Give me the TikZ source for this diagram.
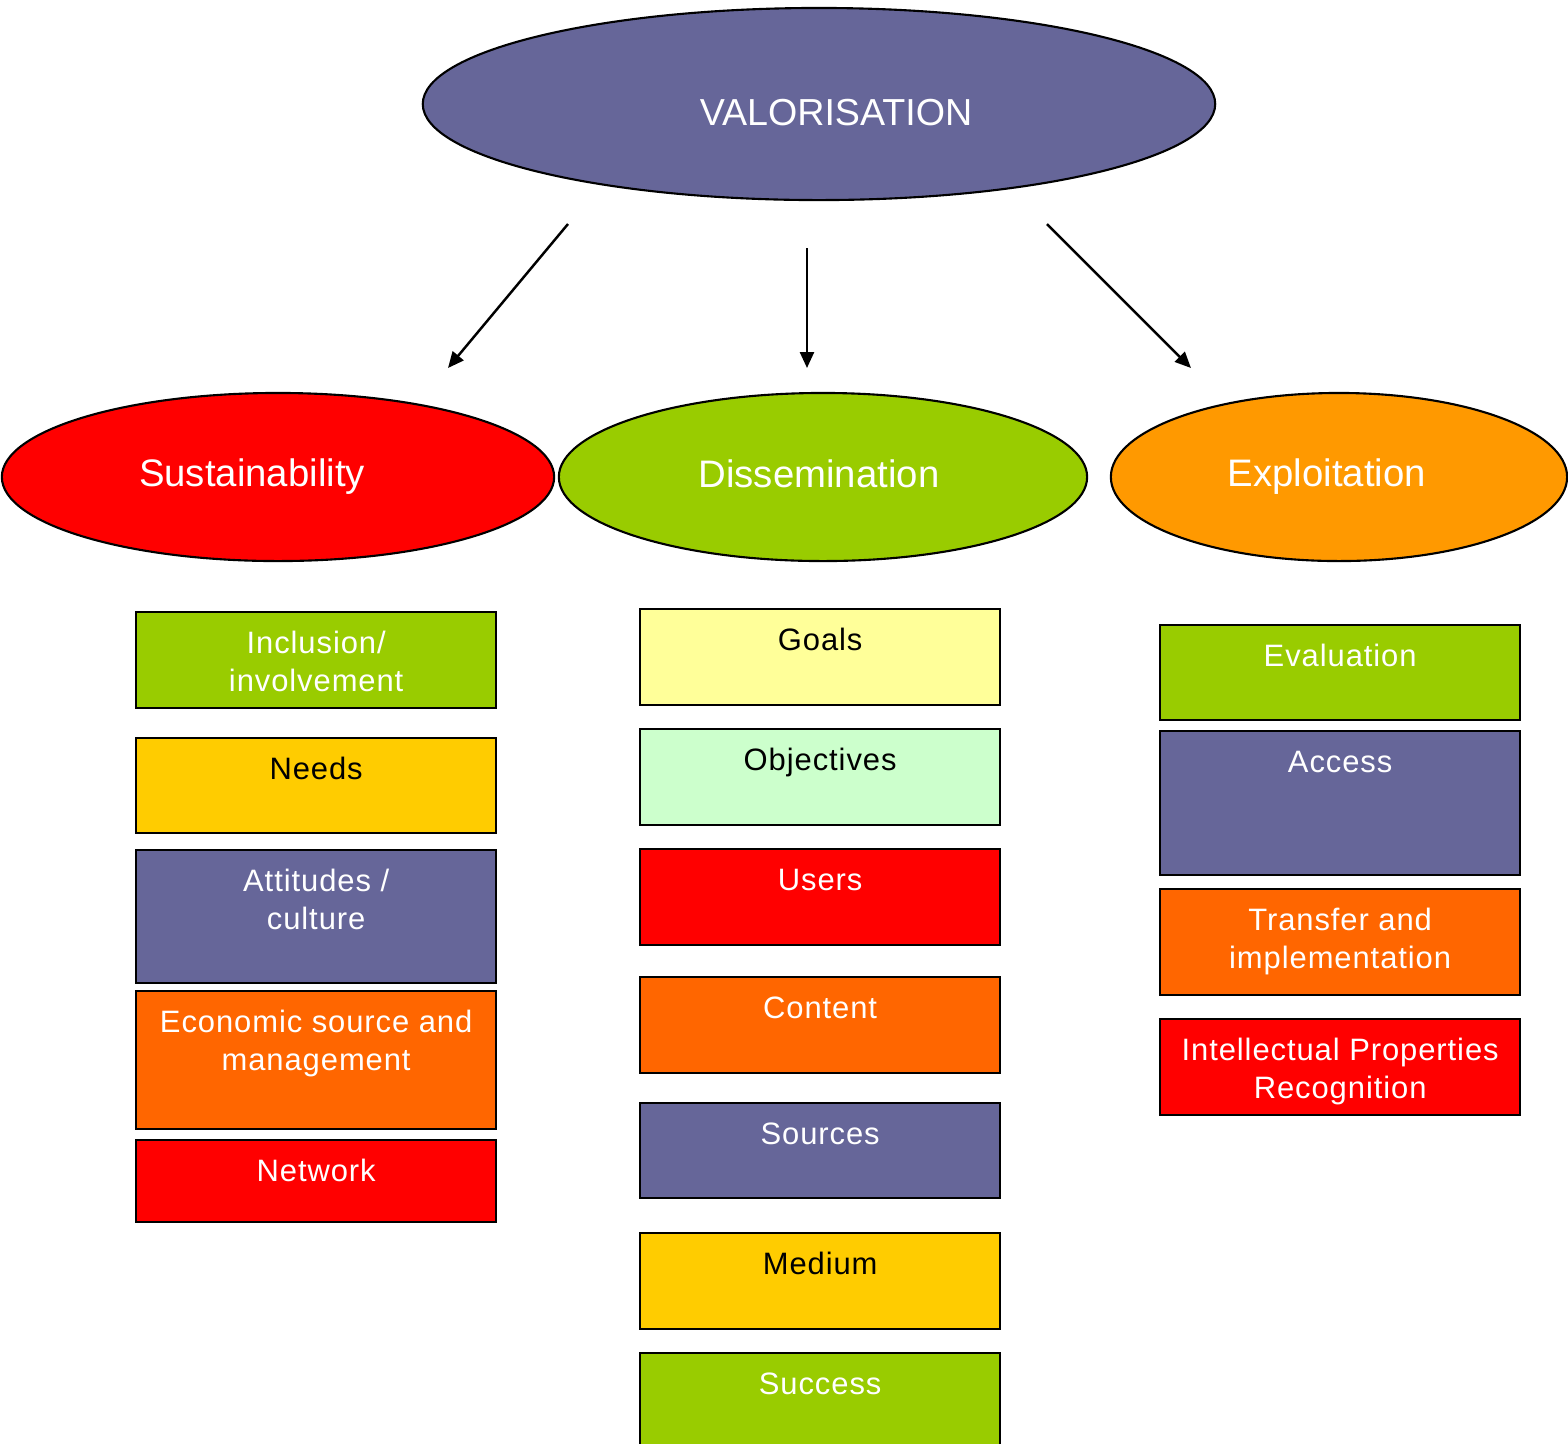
\documentclass[tikz,border=0pt]{standalone}
\usepackage{fontspec}
\setmainfont{Liberation Sans}
\newfontfamily\boxfont[LetterSpace=3]{Liberation Sans}
\usetikzlibrary{shapes.geometric,arrows.meta}

\definecolor{slate}{HTML}{666699}
\definecolor{lime}{HTML}{99CC00}
\definecolor{tangerine}{HTML}{FF9900}
\definecolor{rust}{HTML}{FF6600}
\definecolor{gold}{HTML}{FFCC00}
\definecolor{cream}{HTML}{FFFF99}
\definecolor{mint}{HTML}{CCFFCC}

\tikzset{
  blob/.style={ellipse, draw, line width=0.6pt, inner sep=0pt, text=white},
  cell/.style={draw, rectangle, inner sep=0pt, line width=0.6pt, anchor=north west,
    font={\boxfont\fontsize{8.8}{10.8}\selectfont},
    execute at begin node={\begin{minipage}[t][#1][t]{3.6cm}\centering\rule{0pt}{0.415cm}},
    execute at end node={\end{minipage}}},
}

\begin{document}
\begin{tikzpicture}[x=0.01cm,y=-0.01cm]

      \clip (0,0) rectangle (1568,1444);

      \begin{scope}[every node/.style={blob}]
        \node (v) at (819,104) [fill=slate, minimum width=7.92cm, minimum height=1.92cm,
          text height=0.42cm, text depth=0pt, font=\fontsize{10.7}{13}\selectfont]
          {\hspace*{0.34cm}VALORISATION};
        \node (s) at (278,477) [fill=red, minimum width=5.52cm, minimum height=1.68cm,
          font=\fontsize{10.9}{13}\selectfont] {Sustainability\hspace*{0.52cm}};
        \node (d) at (823,477) [fill=lime, minimum width=5.28cm, minimum height=1.68cm,
          text depth=0.06cm, font=\fontsize{10.9}{13}\selectfont] {Dissemination\hspace*{0.08cm}};
        \node (e) at (1339,477) [fill=tangerine, minimum width=4.56cm, minimum height=1.68cm,
          font=\fontsize{10.9}{13}\selectfont] {Exploitation\hspace*{0.24cm}};
      \end{scope}

      % left column
      \node (s1) at (135,611)  [cell=0.96cm, fill=lime, text=white] {Inclusion/\\involvement};
      \node (s2) at (135,737)  [cell=0.95cm, fill=gold] {Needs};
      \node (s3) at (135,849)  [cell=1.33cm, fill=slate, text=white] {Attitudes /\\culture};
      \node (s4) at (135,990)  [cell=1.38cm, fill=rust, text=white] {Economic source and\\management};
      \node (s5) at (135,1139) [cell=0.82cm, fill=red, text=white] {Network};

      % middle column
      \node (d1) at (639,608)  [cell=0.96cm, fill=cream] {Goals};
      \node (d2) at (639,728)  [cell=0.96cm, fill=mint] {Objectives};
      \node (d3) at (639,848)  [cell=0.96cm, fill=red, text=white] {Users};
      \node (d4) at (639,976)  [cell=0.96cm, fill=rust, text=white] {Content};
      \node (d5) at (639,1102) [cell=0.95cm, fill=slate, text=white] {Sources};
      \node (d6) at (639,1232) [cell=0.96cm, fill=gold] {Medium};
      \node (d7) at (639,1352) [cell=1.20cm, fill=lime, text=white] {Success};

      % right column
      \node (e1) at (1159,624)  [cell=0.95cm, fill=lime, text=white] {Evaluation};
      \node (e2) at (1159,730)  [cell=1.44cm, fill=slate, text=white] {Access};
      \node (e3) at (1159,888)  [cell=1.06cm, fill=rust, text=white] {Transfer and\\implementation};
      \node (e4) at (1159,1018) [cell=0.96cm, fill=red, text=white] {Intellectual Properties\\Recognition};

      \coordinate (vs) at (568,224);
      \coordinate (sv) at (448,368);
      \coordinate (vd) at (807,248);
      \coordinate (dv) at (807,368);
      \coordinate (ve) at (1047,224);
      \coordinate (ev) at (1191,368);

      \begin{scope}[every edge/.style={draw, line width=0.7pt, -{Triangle[length=0.16cm,width=0.14cm]}}]
        \path (vs) edge (sv);
        \path (vd) edge (dv);
        \path (ve) edge (ev);
      \end{scope}

    \end{tikzpicture}
\end{document}
